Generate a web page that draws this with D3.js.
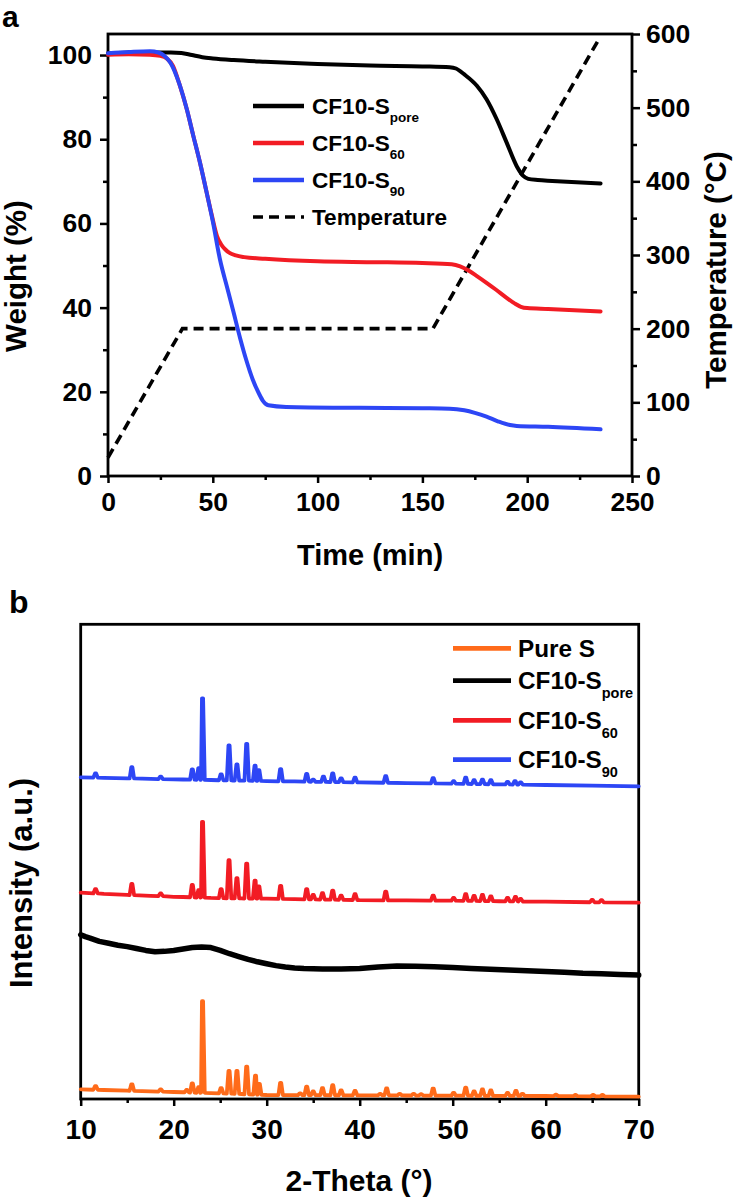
<!DOCTYPE html>
<html><head><meta charset="utf-8">
<script src="https://cdn.jsdelivr.net/npm/d3@7"></script>
<style>
body{margin:0;background:#fff;}
svg text{font-family:"Liberation Sans",Arial,Helvetica,sans-serif;font-weight:bold;fill:#000;}
</style></head><body>
<svg id="c" width="733" height="1204"></svg>
<script>
// ---------- Panel a: TGA (time in min, weight in %) ----------
const tgaSpore = [[0,100.4],[15,100.6],[30,100.6],[35,100.5],[40,100.0],[45,99.5],[50,99.2],[60,98.8],[75,98.4],[100,97.9],[125,97.5],[150,97.3],[163,97.1],[166,96.8],[170,95.4],[176,92.7],[180.6,89.5],[185.4,84.8],[190.2,79.2],[195,73.6],[198.1,71.3],[200.5,70.6],[205,70.3],[212,70.1],[235,69.5]];
const tgaS60 = [[0,100.1],[10,100.2],[20,100.1],[25,99.8],[28,99.2],[31,97.4],[34,93.2],[37.6,87.1],[40.7,80.8],[43.9,74.4],[47,67.5],[49.5,62],[52,57],[54,55],[56,53.8],[58,53.0],[61,52.4],[65,52.0],[75,51.6],[100,51.0],[125,50.8],[150,50.6],[164,50.3],[168,49.8],[172,48.8],[176,47.5],[180.6,45.9],[185,44.3],[190,42.4],[194,41.0],[197,40.2],[200,39.9],[210,39.7],[235,39.1]];
const tgaS90 = [[0,100.4],[10,100.7],[20,100.9],[24,100.6],[27,99.8],[30,98.0],[34,93.2],[37.6,87.1],[40.7,80.8],[43.9,74.4],[47,67.5],[50,60.5],[53.4,51.5],[57,44.5],[60,38.7],[63,32.8],[66,27.5],[69,23.0],[72,19.6],[74,17.8],[76.5,16.8],[85,16.4],[120,16.2],[150,16.1],[163,16.0],[170,15.6],[175,15.0],[180.6,14.1],[186,13.0],[191.8,12.1],[195,11.9],[210,11.7],[235,11.1]];
const tempProgram = [[0,25],[35.5,200],[155,200],[234,592]];
const tgaYTicks = [0,20,40,60,80,100];
const tgaXTicks = [0,50,100,150,200,250];
const tempTicks = [0,100,200,300,400,500,600];

// ---------- Panel b: XRD (2-theta in degrees, intensity a.u.) ----------
const xrdXTicks = [10,20,30,40,50,60,70];
const pureSBase = [[10,2.04],[12.5,1.9],[15,1.75],[17.5,1.6],[20,1.47],[21,1.42],[24,1.25],[26.3,1.12],[27.3,1.05],[30,0.84],[33,0.82],[40,0.78],[45,0.74],[50,0.7],[55,0.67],[60,0.63],[65,0.56],[70,0.48]];
const pureSPeaks = [[11.6,1.95,2.7],[15.5,1.72,3.1],[18.6,1.55,2.0],[21.4,1.39,1.9],[22.0,1.36,3.3],[22.7,1.32,2.5],[23.1,1.3,20.6],[25.1,1.19,2.3],[25.95,1.13,5.9],[26.8,1.08,5.9],[27.85,1.0,6.8],[28.8,0.93,4.9],[29.2,0.9,3.2],[31.5,0.83,3.4],[33.6,0.82,1.2],[34.3,0.81,2.6],[35.0,0.81,1.6],[36.0,0.8,2.3],[37.1,0.79,2.9],[38.0,0.79,1.8],[39.5,0.78,1.7],[42.2,0.76,1.1],[42.9,0.76,2.25],[44.3,0.75,1.1],[45.8,0.74,1.1],[46.6,0.73,1.0],[47.9,0.72,2.2],[50.1,0.7,1.3],[51.4,0.69,2.4],[52.3,0.68,1.6],[53.2,0.68,2.0],[54.1,0.67,1.8],[55.9,0.66,1.3],[56.8,0.65,1.7],[57.5,0.65,1.1],[61.1,0.62,0.9],[63.2,0.59,0.85],[65.1,0.56,0.85],[66.1,0.55,0.85]];
const sporeCurve = [[10,34.6],[10.5,34.2],[11,33.9],[12,33.2],[13,32.8],[14,32.4],[15,32.1],[16,31.7],[17,31.3],[18,31.0],[19,31.1],[20,31.3],[21,31.6],[22,31.9],[23,32.0],[24,31.9],[25,31.3],[26,30.6],[27,30.0],[28,29.4],[29,28.9],[30,28.5],[31,28.1],[32,27.8],[33,27.6],[34,27.5],[36,27.4],[38,27.4],[40,27.5],[42,27.8],[44,28.0],[46,27.95],[48,27.85],[50,27.7],[52,27.5],[54,27.35],[56,27.2],[58,27.0],[60,26.85],[62,26.7],[64,26.5],[66,26.4],[68,26.25],[70,26.1]];
const s60Base = [[10,43.46],[12.5,43.2],[15,43.0],[17.5,42.8],[20,42.6],[21,42.55],[24,42.35],[26.3,42.27],[27.3,42.25],[30,42.2],[33,42.1],[40,41.9],[45,41.83],[50,41.77],[55,41.66],[60,41.56],[65,41.45],[70,41.35]];
const s60Peaks = [[11.6,43.3,44.2],[15.5,42.96,45.3],[18.6,42.75,43.3],[22.0,42.5,45.1],[22.7,42.45,44.0],[23.1,42.43,58.4],[25.1,42.3,44.2],[25.95,42.28,50.3],[26.8,42.26,46.5],[27.85,42.24,49.6],[28.75,42.22,46.0],[29.15,42.21,44.8],[31.5,42.15,44.9],[34.3,42.07,44.2],[35.0,42.05,43.0],[36.0,42.02,43.35],[37.1,41.99,43.9],[38.0,41.96,42.85],[39.5,41.92,43.15],[42.8,41.86,43.7],[47.9,41.8,42.85],[50.1,41.77,42.35],[51.4,41.74,43.15],[52.3,41.72,42.8],[53.2,41.7,43.0],[54.1,41.68,42.7],[55.9,41.64,42.35],[56.75,41.63,42.55],[57.3,41.61,42.15],[65.0,41.45,41.95],[66.0,41.43,41.9]];
const s90Base = [[10,67.77],[12.5,67.66],[15,67.55],[17.5,67.45],[20,67.35],[21,67.31],[24,67.2],[26.3,67.1],[27.3,67.07],[30,66.97],[33,66.9],[40,66.7],[45,66.56],[50,66.42],[55,66.28],[60,66.15],[65,66.0],[70,65.87]];
const s90Peaks = [[11.6,67.7,68.6],[15.5,67.53,69.9],[18.6,67.4,67.9],[22.0,67.27,69.45],[22.7,67.24,69.7],[23.1,67.23,84.4],[25.1,67.15,68.4],[25.95,67.12,74.5],[26.8,67.09,70.5],[27.85,67.05,74.8],[28.75,67.02,70.2],[29.15,67.0,69.3],[31.5,66.93,69.5],[34.3,66.85,68.5],[35.0,66.83,67.3],[36.1,66.8,67.9],[37.1,66.78,68.6],[38.0,66.75,67.55],[39.5,66.71,67.7],[42.8,66.62,68.0],[47.9,66.48,67.6],[50.1,66.42,66.95],[51.4,66.38,67.7],[52.3,66.36,67.15],[53.2,66.33,67.25],[54.1,66.31,67.15],[55.9,66.26,66.8],[56.7,66.24,66.95],[57.3,66.22,66.7]];

const RED = "#f21c24", BLUE = "#2d46f5", ORANGE = "#ff6b1a", BLACK = "#000";
const svg = d3.select("#c");

function styleAxis(g, fs) {
  g.select(".domain").remove();
  g.selectAll(".tick line").attr("stroke", "#000").attr("stroke-width", 2.5);
  g.selectAll("text").style("font-size", fs + "px");
}

// ================= Panel a =================
const xA = d3.scaleLinear().domain([0, 250]).range([108, 632]);
const yA = d3.scaleLinear().domain([0, 105]).range([476, 34]);
const yT = d3.scaleLinear().domain([0, 600]).range([476, 34]);

const gA = svg.append("g");
gA.append("g").attr("transform", "translate(108,0)")
  .call(d3.axisLeft(yA).tickValues(tgaYTicks).tickSize(8).tickPadding(8)).call(g => styleAxis(g, 26.5));
gA.append("g").attr("transform", "translate(108,0)")
  .call(d3.axisLeft(yA).tickValues([10,30,50,70,90]).tickSize(5).tickFormat("")).call(g => styleAxis(g, 10));
gA.append("g").attr("transform", "translate(0,476)")
  .call(d3.axisBottom(xA).tickValues(tgaXTicks).tickSize(7).tickPadding(9)).call(g => styleAxis(g, 26.5));
gA.append("g").attr("transform", "translate(0,476)")
  .call(d3.axisBottom(xA).tickValues([25,75,125,175,225]).tickSize(4).tickFormat("")).call(g => styleAxis(g, 10));
gA.append("g").attr("transform", "translate(632,0)")
  .call(d3.axisRight(yT).tickValues(tempTicks).tickSize(8).tickPadding(6)).call(g => styleAxis(g, 26.5));
gA.append("g").attr("transform", "translate(632,0)")
  .call(d3.axisRight(yT).tickValues([50,150,250,350,450,550]).tickSize(5).tickFormat("")).call(g => styleAxis(g, 10));
gA.append("rect").attr("x", 108).attr("y", 34).attr("width", 524).attr("height", 442)
  .attr("fill", "none").attr("stroke", "#000").attr("stroke-width", 2.8);

const lineA = d3.line().x(d => xA(d[0])).y(d => yA(d[1])).curve(d3.curveMonotoneX);
const lineT = d3.line().x(d => xA(d[0])).y(d => yT(d[1]));
gA.append("path").datum(tempProgram).attr("d", lineT).attr("fill", "none").attr("stroke", "#000")
  .attr("stroke-width", 3.6).attr("stroke-dasharray", "10,6");
[[tgaSpore, BLACK], [tgaS60, RED], [tgaS90, BLUE]].forEach(([d, c]) => {
  gA.append("path").datum(d).attr("d", lineA).attr("fill", "none").attr("stroke", c)
    .attr("stroke-width", 4).attr("stroke-linejoin", "round").attr("stroke-linecap", "round");
});

// legend a
const legA = [{c: BLACK, t: "CF10-S", s: "pore", y: 106}, {c: RED, t: "CF10-S", s: "60", y: 143},
              {c: BLUE, t: "CF10-S", s: "90", y: 180}, {c: BLACK, t: "Temperature", s: "", y: 217, dash: true}];
legA.forEach(l => {
  gA.append("line").attr("x1", 253).attr("x2", 304).attr("y1", l.y).attr("y2", l.y)
    .attr("stroke", l.c).attr("stroke-width", l.dash ? 3.6 : 4.5).attr("stroke-dasharray", l.dash ? "10,6" : null);
  const t = gA.append("text").attr("x", 312).attr("y", l.y + 8).style("font-size", "22.6px");
  t.append("tspan").text(l.t);
  if (l.s) t.append("tspan").attr("dy", 8).style("font-size", "13.5px").text(l.s);
});

svg.append("text").attr("x", 2).attr("y", 27).style("font-size", "30px").text("a");
svg.append("text").attr("transform", "translate(26,276) rotate(-90)").attr("text-anchor", "middle")
  .style("font-size", "29.5px").text("Weight (%)");
svg.append("text").attr("transform", "translate(726,270) rotate(-90)").attr("text-anchor", "middle")
  .style("font-size", "29.5px").text("Temperature (\u00B0C)");
svg.append("text").attr("x", 370).attr("y", 565).attr("text-anchor", "middle")
  .style("font-size", "29px").text("Time (min)");

// ================= Panel b =================
const xB = d3.scaleLinear().domain([10, 70]).range([80.7, 638.7]);
const yB = d3.scaleLinear().domain([0, 100]).range([1099, 624.3]);
const gB = svg.append("g");
gB.append("g").attr("transform", "translate(0,1099)")
  .call(d3.axisBottom(xB).tickValues(xrdXTicks).tickSize(7).tickPadding(13)).call(g => styleAxis(g, 28));
gB.append("g").attr("transform", "translate(0,1099)")
  .call(d3.axisBottom(xB).tickValues([15,25,35,45,55,65]).tickSize(4).tickFormat("")).call(g => styleAxis(g, 10));
gB.append("rect").attr("x", 80.7).attr("y", 624.3).attr("width", 558).attr("height", 474.7)
  .attr("fill", "none").attr("stroke", "#000").attr("stroke-width", 2.8);

const HW = 0.24;
function pattern(base, peaks) {
  const pts = base.filter(b => !peaks.some(p => Math.abs(b[0] - p[0]) < HW + 0.08));
  peaks.forEach(p => {
    pts.push([p[0] - HW, p[1]], [p[0] - 0.06, p[2]], [p[0] + 0.06, p[2]], [p[0] + HW, p[1]]);
  });
  return pts.sort((a, b) => a[0] - b[0]);
}
const lineB = d3.line().x(d => xB(d[0])).y(d => yB(d[1]));
[[pattern(pureSBase, pureSPeaks), ORANGE, 3.8], [sporeCurve, BLACK, 5.5],
 [pattern(s60Base, s60Peaks), RED, 3.8], [pattern(s90Base, s90Peaks), BLUE, 3.8]].forEach(([d, c, w]) => {
  gB.append("path").datum(d).attr("d", lineB).attr("fill", "none").attr("stroke", c)
    .attr("stroke-width", w).attr("stroke-linejoin", "round").attr("stroke-linecap", "round");
});

const legB = [{c: ORANGE, t: "Pure S", s: "", y: 648.3}, {c: BLACK, t: "CF10-S", s: "pore", y: 680.7},
              {c: RED, t: "CF10-S", s: "60", y: 720.3}, {c: BLUE, t: "CF10-S", s: "90", y: 759.7}];
legB.forEach(l => {
  gB.append("line").attr("x1", 453).attr("x2", 511).attr("y1", l.y).attr("y2", l.y)
    .attr("stroke", l.c).attr("stroke-width", 4.7);
  const t = gB.append("text").attr("x", 518).attr("y", l.y + 8.5).style("font-size", "24.3px");
  t.append("tspan").text(l.t);
  if (l.s) t.append("tspan").attr("dy", 9).style("font-size", "14.5px").text(l.s);
});

svg.append("text").attr("x", 9).attr("y", 613).style("font-size", "32px").text("b");
svg.append("text").attr("transform", "translate(32,883) rotate(-90)").attr("text-anchor", "middle")
  .style("font-size", "31px").text("Intensity (a.u.)");
svg.append("text").attr("x", 359).attr("y", 1191).attr("text-anchor", "middle")
  .style("font-size", "30px").text("2-Theta (\u00B0)");
</script></body></html>
